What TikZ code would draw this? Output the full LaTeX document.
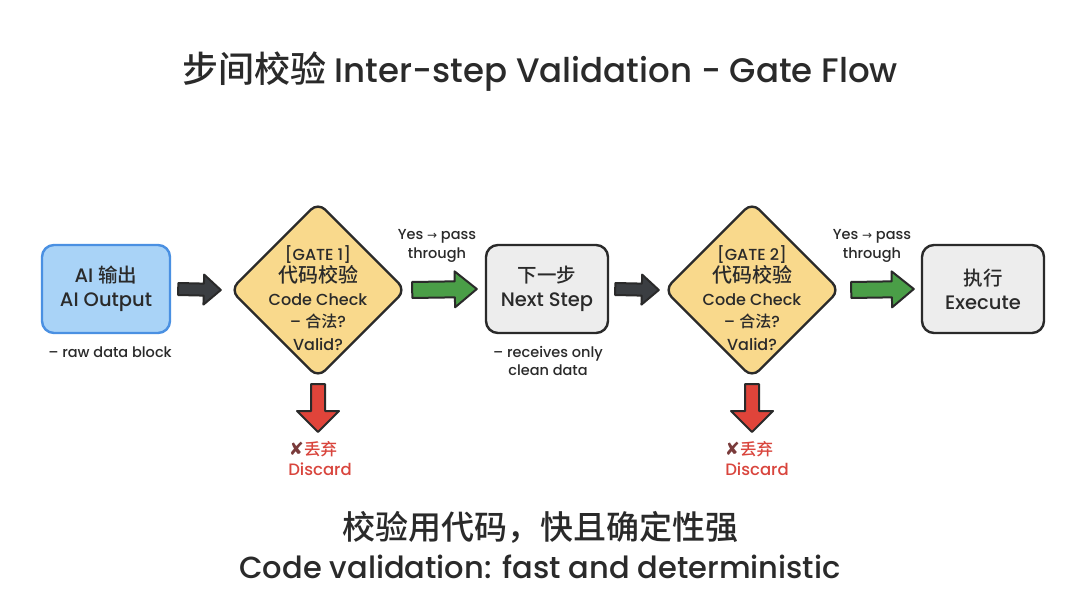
\documentclass[tikz,border=0pt]{standalone}
\usepackage{fontspec}
\setmainfont{Poppins}[UprightFont=* Medium]
\newfontfamily\cjk{Noto Sans CJK SC}[UprightFont=* Medium]
\newfontfamily\cjkb{Noto Sans CJK SC}[UprightFont=* Bold]
\newfontfamily\symfont{DejaVu Sans}
\usetikzlibrary{shapes.geometric,calc}
\definecolor{bluefill}{HTML}{A9D3F7}
\definecolor{blueline}{HTML}{4A90E2}
\definecolor{yellowfill}{HTML}{F9D98C}
\definecolor{grayfill}{HTML}{EDEDED}
\definecolor{inkline}{HTML}{2A2A2A}
\definecolor{greenfill}{HTML}{4A9E47}
\definecolor{redfill}{HTML}{E0443A}
\definecolor{darkfill}{HTML}{3B3E42}
\definecolor{redtext}{HTML}{D9453D}
\definecolor{xmark}{HTML}{7A3B3B}
\newcommand\zh[1]{{\cjk #1}}
\newcommand\zhb[1]{{\cjkb #1}}
\newcommand\rarr{{\symfont\fontsize{12}{12}\selectfont →}}
\newcommand\blockarrow[6]{%
  \coordinate (ba-s) at #1;
  \coordinate (ba-e) at #2;
  \coordinate (ba-m) at ($(ba-e)!#6!(ba-s)$);
  \draw[barrow, fill=#3]
    ($(ba-s)!#4!90:(ba-e)$) -- ($(ba-m)!#4!90:(ba-e)$) -- ($(ba-m)!#5!90:(ba-e)$)
    -- (ba-e) -- ($(ba-m)!#5!-90:(ba-e)$) -- ($(ba-m)!#4!-90:(ba-e)$)
    -- ($(ba-s)!#4!-90:(ba-e)$) -- cycle;
}
\begin{document}
\begin{tikzpicture}[x=1pt,y=-1pt,
  barrow/.style={draw=inkline, line width=2pt, line join=round},
  boxbase/.style={rectangle, rounded corners=12pt, line width=2.4pt, align=center,
    font=\fontsize{19.5}{24}\selectfont, inner sep=0pt, text=inkline},
  aibox/.style={boxbase, draw=blueline, fill=bluefill, minimum width=128pt, minimum height=88pt},
  stepbox/.style={boxbase, draw=inkline, fill=grayfill, minimum width=122pt, minimum height=88pt},
  gate/.style={diamond, aspect=1, minimum width=176pt, minimum height=176pt, inner sep=0pt,
    rounded corners=10pt, draw=inkline, line width=2.4pt, fill=yellowfill},
  gatetext/.style={align=center, font=\fontsize{16}{22.5}\selectfont, inner sep=0pt, text=inkline},
  small/.style={align=center, font=\fontsize{14.5}{18.5}\selectfont, text=inkline, inner sep=0pt},
  redlbl/.style={align=center, font=\fontsize{16.5}{18}\selectfont, text=redtext, inner sep=0pt},
]
\fill[white] (0,0) rectangle (1080,602);
\useasboundingbox (0,0) rectangle (1080,602);

% title
\node[font=\fontsize{34}{38}\selectfont, text=inkline] (title) at (540,72)
  {{\fontsize{36}{38}\selectfont\zh{步间校验}} Inter-step Validation - Gate Flow};

% nodes
\node[aibox] (ai) at (106,289) {AI \zh{输出}\\AI Output};
\node[small] (raw) at (110,352) {– raw data block};

\node[gate] (g1) at (318,290) {};
\node[gatetext] (g1t) at (318,298) {[GATE 1]\\{\fontsize{20}{22.5}\selectfont\zh{代码校验}}\\Code Check\\– \zh{合法}?\\Valid?};

\node[small] (y1) at (437,246) {Yes \rarr{} pass\\through};

\node[stepbox] (ns) at (547,289) {\zh{下一步}\\Next Step};
\node[small] (clean) at (548,361) {– receives only\\clean data};

\node[gate] (g2) at (752,290) {};
\node[gatetext] (g2t) at (752,298) {[GATE 2]\\{\fontsize{20}{22.5}\selectfont\zh{代码校验}}\\Code Check\\– \zh{合法}?\\Valid?};

\node[small] (y2) at (872,246) {Yes \rarr{} pass\\through};

\node[stepbox] (ex) at (983,289) {\zh{执行}\\Execute};

% discard labels
\node[redlbl] (d1) at (313,449) {{\symfont\fontsize{18}{18}\selectfont\color{xmark}✘}\zh{丢弃}};
\node[redlbl] (d1b) at (320,469) {Discard};
\node[redlbl] (d2) at (749,449) {{\symfont\fontsize{18}{18}\selectfont\color{xmark}✘}\zh{丢弃}};
\node[redlbl] (d2b) at (757,469) {Discard};
\coordinate (d1end) at (318,432);
\coordinate (d2end) at (752,432);

% block arrows
\blockarrow{([xshift=7pt]ai.east)}{([xshift=-8pt]g1.west)}{darkfill}{6pt}{15pt}{17pt}
\blockarrow{([xshift=5pt]g1.east)}{([xshift=-8pt]ns.west)}{greenfill}{8pt}{18pt}{22pt}
\blockarrow{([xshift=6pt]ns.east)}{([xshift=-4pt]g2.west)}{darkfill}{6pt}{15pt}{17pt}
\blockarrow{([xshift=10pt]g2.east)}{([xshift=-7pt]ex.west)}{greenfill}{8pt}{18pt}{22pt}
\blockarrow{([yshift=-5pt]g1.south)}{(d1end)}{redfill}{7pt}{21pt}{21pt}
\blockarrow{([yshift=-5pt]g2.south)}{(d2end)}{redfill}{7pt}{21pt}{21pt}

% bottom text
\node[font=\fontsize{33}{38}\selectfont, text=inkline] (sum1) at (540,527) {\zh{校验用代码，快且确定性强}};
\node[font=\fontsize{30.5}{34}\selectfont, text=inkline] (sum2) at (540,567) {Code validation: fast and deterministic};
\end{tikzpicture}
\end{document}
